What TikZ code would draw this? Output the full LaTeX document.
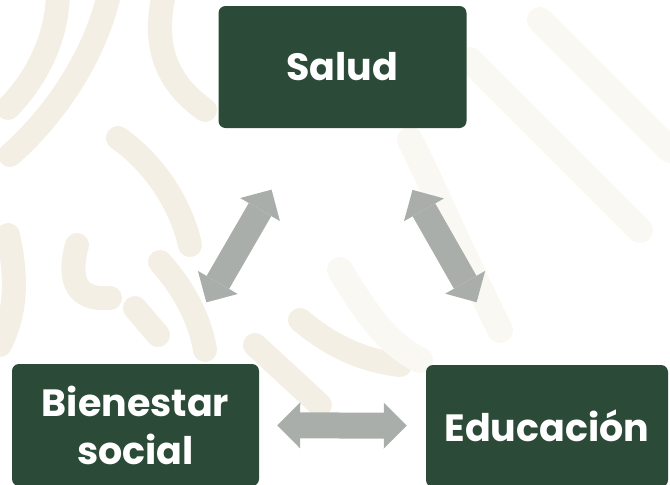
\documentclass[tikz,border=0pt]{standalone}
\usepackage{fontspec}
\setmainfont{Poppins}
\usetikzlibrary{arrows.meta}

\definecolor{boxgreen}{HTML}{2B4A37}
\definecolor{arrowgray}{HTML}{A9AEAA}
\definecolor{patbeige}{HTML}{F4EFE4}
\definecolor{patlight}{HTML}{FAF8F3}

\begin{document}
\begin{tikzpicture}
        [x=1pt, y=-1pt,
        topic/.style={rectangle, rounded corners=7pt, fill=boxgreen, text=white,
          minimum width=248pt, minimum height=122pt, align=center,
          font=\fontsize{38}{48}\selectfont\bfseries},
        link/.style={arrowgray, line width=26pt, {Triangle[length=23pt, width=46pt, line width=0pt]}-{Triangle[length=23pt, width=46pt, line width=0pt]}},
        band/.style={patbeige, line width=24pt, line cap=round},
        stripe/.style={patlight, line width=26pt, line cap=round}]
        \useasboundingbox (0,0) rectangle (670,485);
        % background pattern
        \draw[band] (110,-10) .. controls (95,60) and (50,120) .. (10,155);
        \draw[band] (58,-10) .. controls (58,40) and (35,80) .. (8,108);
        \draw[band] (165,-10) .. controls (150,50) and (170,85) .. (205,110);
        \draw[band] (118,138) .. controls (150,160) and (180,200) .. (190,245);
        \draw[band] (77,245) .. controls (65,290) and (85,300) .. (110,298);
        \draw[band] (135,308) -- (158,335);
        \draw[band] (160,262) .. controls (185,290) and (200,320) .. (205,350);
        \draw[band] (255,345) -- (320,405);
        \draw[band] (8,235) .. controls (20,290) and (12,320) .. (0,345);
        \draw[band] (300,320) .. controls (330,345) and (360,360) .. (400,365);
        \draw[stripe] (410,140) .. controls (440,200) and (460,250) .. (500,330);
        \draw[stripe] (470,60) -- (640,230);
        \draw[stripe] (540,20) -- (670,150);
        \draw[stripe] (340,270) .. controls (370,320) and (390,345) .. (420,360);
        % topics
        \node (Salud) at (342.5,67) [topic] {Salud};
        \node (Bienestar) at (135.5,425) [topic, minimum width=247pt] {Bienestar\\social};
        \node (Educacion) at (547,426) [topic, minimum width=242pt] {Educación};
        % links
        \draw[link, shorten <=71pt, shorten >=71pt] (Bienestar) -- (Salud);
        \draw[link, shorten <=71pt, shorten >=72pt] (Salud) -- (Educacion);
        \draw[link, shorten <=18pt, shorten >=19pt] (Bienestar) -- (Educacion);
\end{tikzpicture}
\end{document}
